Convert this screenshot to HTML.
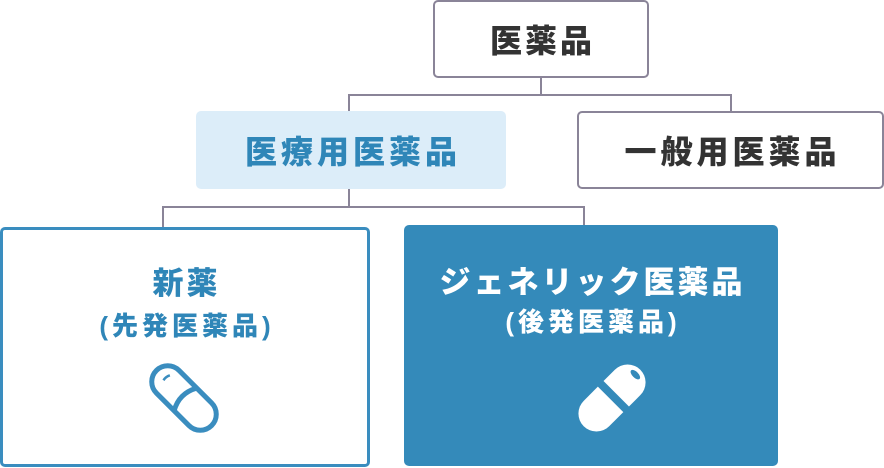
<!DOCTYPE html>
<html><head><meta charset="utf-8"><style>
html,body{margin:0;padding:0;background:#fff;}
body{width:884px;height:468px;position:relative;overflow:hidden;font-family:"Liberation Sans","Noto Sans CJK JP",sans-serif;font-weight:900;}
.b{position:absolute;box-sizing:border-box;display:flex;align-items:center;justify-content:center;border-radius:5px;}
.t{position:absolute;left:0;right:0;text-align:center;white-space:nowrap;}
.l{position:absolute;background:#8a8498;}
</style></head><body>
<div class="b" style="left:433px;top:0;width:216px;height:78px;border:2px solid #8a8498;color:#333;font-size:32px;letter-spacing:3px;padding-left:3px">医薬品</div>
<div class="l" style="left:540px;top:78px;width:2px;height:18px"></div>
<div class="l" style="left:348px;top:94px;width:384px;height:2px"></div>
<div class="l" style="left:348px;top:94px;width:2px;height:17px"></div>
<div class="l" style="left:730px;top:94px;width:2px;height:17px"></div>
<div class="b" style="left:196px;top:111px;width:310px;height:78px;background:#dcedf9;color:#2f86b8;font-size:32px;letter-spacing:4px;padding-left:4px">医療用医薬品</div>
<div class="b" style="left:577px;top:111px;width:307px;height:78px;border:2px solid #8a8498;color:#333;font-size:32px;letter-spacing:4px;padding-left:4px">一般用医薬品</div>
<div class="l" style="left:348px;top:189px;width:2px;height:18px"></div>
<div class="l" style="left:162px;top:206px;width:423px;height:2px"></div>
<div class="l" style="left:162px;top:206px;width:2px;height:22px"></div>
<div class="l" style="left:583px;top:206px;width:2px;height:20px"></div>
<div class="b" style="left:0;top:227px;width:370px;height:240px;border:3px solid #3a8dbf;display:block;color:#2f86b8">
 <div class="t" style="top:28px;font-size:31px;letter-spacing:3px;padding-left:3px">新薬</div>
 <div class="t" style="top:76px;font-size:26px;letter-spacing:4px;padding-left:4px">(先発医薬品)</div>
</div>
<svg style="position:absolute;left:140px;top:354px" width="88" height="88" viewBox="-44 -44 88 88">
 <g transform="rotate(45)" fill="none" stroke="#3a8dbf" stroke-width="5">
  <rect x="-39" y="-16" width="78" height="32" rx="16"/>
  <path d="M2 -16 Q-7 0 2 16"/>
  <path d="M-26 -6 Q-28 -2 -27 2" stroke-width="2.5"/>
 </g>
</svg>
<div class="b" style="left:404px;top:225px;width:374px;height:241px;background:#348aba;display:block;color:#fff">
 <div class="t" style="top:32px;font-size:31px;letter-spacing:3px;padding-left:3px">ジェネリック医薬品</div>
 <div class="t" style="top:77px;font-size:26px;letter-spacing:4px;padding-left:4px">(後発医薬品)</div>
</div>
<svg style="position:absolute;left:568px;top:354px" width="88" height="88" viewBox="-44 -44 88 88">
 <g transform="rotate(-45)">
  <path d="M-2 -18 L-22 -18 A18 18 0 0 0 -22 18 L-2 18 Z" fill="#fff"/>
  <path d="M6 -18 L22 -18 A18 18 0 0 1 22 18 L6 18 Z" fill="#fff"/>
  <ellipse cx="33" cy="0" rx="3" ry="6" fill="#348aba"/>
 </g>
</svg>
</body></html>
